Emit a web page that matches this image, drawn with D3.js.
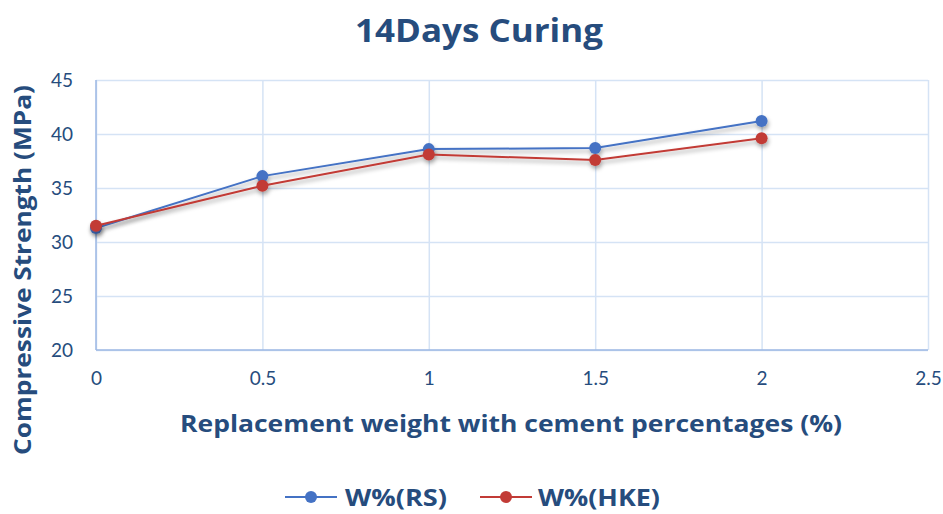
<!DOCTYPE html>
<html>
<head>
<meta charset="utf-8">
<script src="https://cdn.jsdelivr.net/npm/d3@7"></script>
<style>
  html, body { margin: 0; padding: 0; background: #fff; }
  svg { display: block; font-family: "Open Sans", Lato, sans-serif; }
</style>
</head>
<body>
<svg id="chart" width="943" height="514"></svg>
<script>
// Replacement level (%) and 14-day compressive strength (MPa)
const replacement = [0, 0.5, 1, 1.5, 2];
const strengthRS  = [31.3, 36.1, 38.6, 38.7, 41.2];
const strengthHKE = [31.5, 35.2, 38.1, 37.6, 39.6];
const seriesNames = ["W%(RS)", "W%(HKE)"];
const seriesColors = ["#4472C4", "#C23B36"];
const xTicks = [0, 0.5, 1, 1.5, 2, 2.5];
const yTicks = [20, 25, 30, 35, 40, 45];

const textColor = "#264C7D";
const gridColor = "#D5E3F5";
const axisColor = "#9DB9E3";

const svg = d3.select("#chart");
const margin = { left: 96, right: 15, top: 80, bottom: 164 };
const W = 943, H = 514;

const x = d3.scaleLinear().domain([0, 2.5]).range([margin.left, W - margin.right]);
const y = d3.scaleLinear().domain([20, 45]).range([H - margin.bottom, margin.top]);

// soft drop shadow under the series
const defs = svg.append("defs");
const f = defs.append("filter").attr("id", "shadow")
  .attr("x", "-10%").attr("y", "-30%").attr("width", "120%").attr("height", "180%");
f.append("feDropShadow").attr("dx", 1).attr("dy", 3).attr("stdDeviation", 2.2)
  .attr("flood-color", "#000").attr("flood-opacity", 0.35);

// gridlines
svg.append("g")
  .attr("transform", `translate(0,${y(20)})`)
  .call(d3.axisBottom(x).tickValues(xTicks).tickSize(-(y(20) - y(45))).tickFormat(""))
  .call(g => g.select(".domain").remove())
  .call(g => g.selectAll("line").attr("stroke", gridColor).attr("stroke-width", 1.5));
svg.append("g")
  .attr("transform", `translate(${x(0)},0)`)
  .call(d3.axisLeft(y).tickValues(yTicks).tickSize(-(x(2.5) - x(0))).tickFormat(""))
  .call(g => g.select(".domain").remove())
  .call(g => g.selectAll("line").attr("stroke", gridColor).attr("stroke-width", 1.5));

// axis lines
svg.append("line").attr("x1", x(0)).attr("x2", x(0)).attr("y1", y(45)).attr("y2", y(20))
  .attr("stroke", axisColor).attr("stroke-width", 1.5);
svg.append("line").attr("x1", x(0)).attr("x2", x(2.5)).attr("y1", y(20)).attr("y2", y(20))
  .attr("stroke", axisColor).attr("stroke-width", 1.5);

// tick labels
const xAxis = svg.append("g")
  .attr("transform", `translate(0,${y(20)})`)
  .call(d3.axisBottom(x).tickValues(xTicks).tickSize(0).tickPadding(22).tickFormat(d3.format("")));
xAxis.select(".domain").remove();
xAxis.selectAll("text").attr("fill", textColor).style("font-size", "19px")
  .style("font-family", "Lato, sans-serif");

const yAxis = svg.append("g")
  .attr("transform", `translate(${x(0)},0)`)
  .call(d3.axisLeft(y).tickValues(yTicks).tickSize(0).tickPadding(23));
yAxis.select(".domain").remove();
yAxis.selectAll("text").attr("fill", textColor).style("font-size", "19px")
  .style("font-family", "Lato, sans-serif");

// series
const allSeries = [strengthRS, strengthHKE];
const line = d3.line().x((d, i) => x(replacement[i])).y(d => y(d));
allSeries.forEach((vals, s) => {
  const g = svg.append("g").attr("filter", "url(#shadow)");
  g.append("path").datum(vals).attr("d", line)
    .attr("fill", "none").attr("stroke", seriesColors[s]).attr("stroke-width", 2);
  g.selectAll("circle").data(vals).join("circle")
    .attr("cx", (d, i) => x(replacement[i])).attr("cy", d => y(d)).attr("r", 6)
    .attr("fill", seriesColors[s]);
});

// bold text helper with a fixed drawn width
function boldText(sel, txt, size, width) {
  return sel.attr("fill", textColor).style("font-size", size + "px").style("font-weight", "bold")
    .attr("textLength", width).attr("lengthAdjust", "spacingAndGlyphs").text(txt);
}

// title
boldText(svg.append("text").attr("x", 355).attr("y", 42), "14Days Curing", 32, 248);

// axis titles
boldText(svg.append("text").attr("x", 180).attr("y", 432),
  "Replacement weight with cement percentages (%)", 23, 662);
boldText(svg.append("text").attr("transform", "translate(31,455) rotate(-90)"),
  "Compressive Strength (MPa)", 23, 370);

// legend
const legendItems = [{ x0: 285, tx: 345, w: 102 }, { x0: 480, tx: 538, w: 122 }];
legendItems.forEach((it, s) => {
  const g = svg.append("g");
  g.append("line").attr("x1", it.x0).attr("x2", it.x0 + 52).attr("y1", 497).attr("y2", 497)
    .attr("stroke", seriesColors[s]).attr("stroke-width", 2);
  g.append("circle").attr("cx", it.x0 + 26).attr("cy", 497).attr("r", 6).attr("fill", seriesColors[s]);
  boldText(g.append("text").attr("x", it.tx).attr("y", 506), seriesNames[s], 24, it.w);
});
</script>
</body>
</html>
